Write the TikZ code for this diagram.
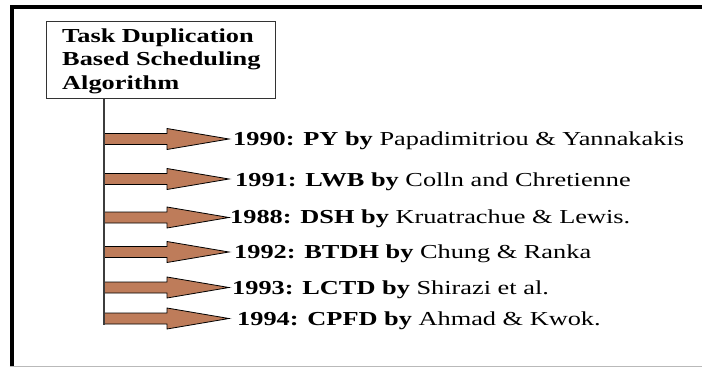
\documentclass[tikz,border=0pt]{standalone}
\usepackage{fontspec}
\setmainfont{Liberation Serif}
\usepackage{graphicx}
\definecolor{arrowbrown}{RGB}{190,124,90}
\definecolor{trunkgray}{RGB}{60,60,60}
\newcommand\wdx[1]{\scalebox{1.33}[1]{#1}}
\tikzset{
  arrowbody/.style={draw=black, line width=0.8pt, fill=arrowbrown, line join=miter},
  entry/.style={anchor=base west, inner sep=0pt, font=\fontsize{19.8}{23.5}\selectfont},
  titletext/.style={anchor=base west, inner sep=0pt, font=\fontsize{19.8}{23.5}\selectfont\bfseries},
  trunk/.style={draw=trunkgray, line width=1.6pt},
}
\begin{document}
\begin{tikzpicture}[x=1pt,y=-1pt]
\useasboundingbox (0,0) rectangle (702,367);
% outer frame
\draw[line width=4pt] (11.5,367) -- (11.5,7) -- (702,7);
\draw[gray!55, line width=1pt] (9.5,366) -- (702,366);
% title box
\node[draw=black!80, line width=1pt, minimum width=229pt, minimum height=77pt, anchor=north west, inner sep=0pt] (box) at (46,21) {};
\node[titletext] (title1) at (62,42) {\wdx{Task Duplication}};
\node[titletext] (title2) at (62,65.5) {\wdx{Based Scheduling}};
\node[titletext] (title3) at (62,89) {\wdx{Algorithm}};
% trunk coordinates
\coordinate (t1) at (104,139);
\coordinate (t2) at (104,179);
\coordinate (t3) at (104,217.5);
\coordinate (t4) at (104,252);
\coordinate (t5) at (104,287.5);
\coordinate (t6) at (104,318.5);
\coordinate (tend) at (104,325);
% labels
\node[entry] (l1) at (233,145) {\wdx{\textbf{1990: PY by} Papadimitriou \& Yannakakis}};
\node[entry] (l2) at (235,186) {\wdx{\textbf{1991: LWB by} Colln and Chretienne}};
\node[entry] (l3) at (230,223) {\wdx{\textbf{1988: DSH by} Kruatrachue \& Lewis.}};
\node[entry] (l4) at (234,258) {\wdx{\textbf{1992: BTDH by} Chung \& Ranka}};
\node[entry] (l5) at (232,294) {\wdx{\textbf{1993: LCTD by} Shirazi et al.}};
\node[entry] (l6) at (237,325) {\wdx{\textbf{1994: CPFD by} Ahmad \& Kwok.}};
% arrows
\foreach \i in {1,...,6}{
  \draw[arrowbody] (t\i) ++(0,-5.5) -- ++(63,0) -- ++(0,-5) -- ++(62,10.5) -- ++(-62,10.5) -- ++(0,-5) -- ++(-63,0) -- cycle;
}
% trunk
\draw[trunk] (box.south -| tend) -- (tend);
\end{tikzpicture}
\end{document}
